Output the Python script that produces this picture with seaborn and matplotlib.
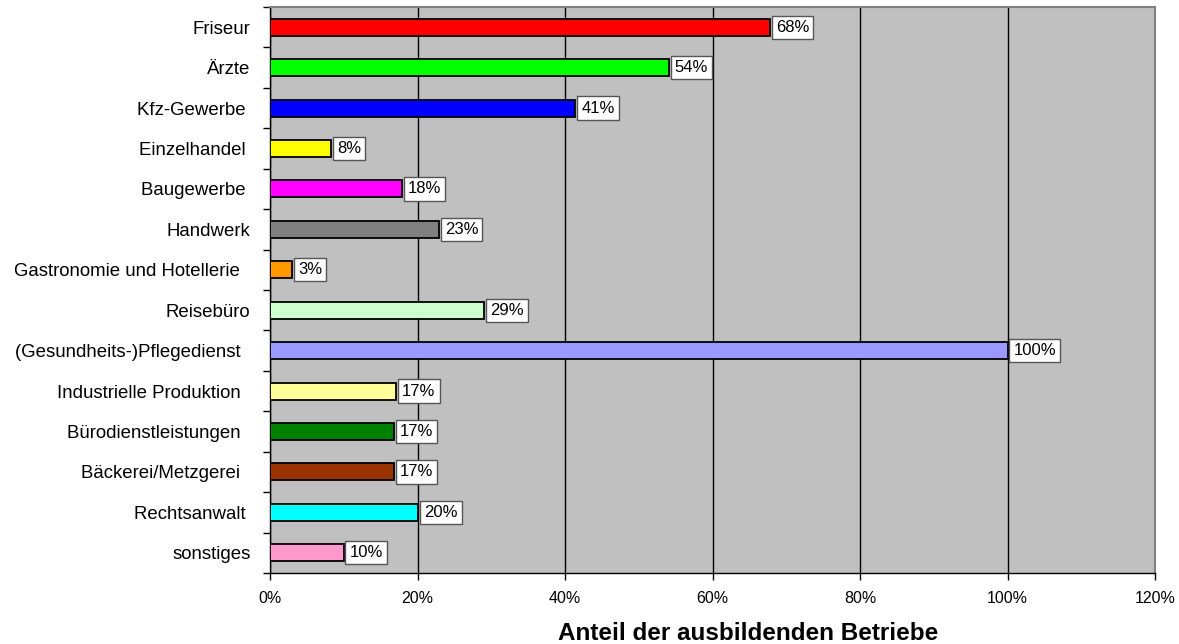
import seaborn as sns
import matplotlib.pyplot as plt
import matplotlib.ticker as mticker
import numpy as np
import pandas as pd

# Data
categories = ["Friseur", "Ärzte", "Kfz-Gewerbe ", "Einzelhandel ", "Baugewerbe ", "Handwerk",
              "Gastronomie und Hotellerie  ", "Reisebüro", "(Gesundheits-)Pflegedienst  ",
              "Industrielle Produktion  ", "Bürodienstleistungen  ", "Bäckerei/Metzgerei  ",
              "Rechtsanwalt ", "sonstiges"]
values = [0.678, 0.541, 0.414, 0.083, 0.179, 0.229, 0.030, 0.290, 1.0,
          0.171, 0.168, 0.168, 0.201, 0.100]
labels = ["68%", "54%", "41%", "8%", "18%", "23%", "3%", "29%", "100%",
          "17%", "17%", "17%", "20%", "10%"]
colors = ["#FF0000", "#00FF00", "#0000FF", "#FFFF00", "#FF00FF", "#808080", "#FF9900",
          "#CCFFCC", "#9999FF", "#FFFF99", "#008000", "#993300", "#00FFFF", "#FF99CC"]

df = pd.DataFrame({"Branche": categories, "Anteil": values})

sns.set_style("white")
plt.rcParams['font.family'] = ['Liberation Sans', 'DejaVu Sans']
plt.rcParams['text.color'] = 'black'
plt.rcParams['axes.labelcolor'] = 'black'
plt.rcParams['xtick.color'] = 'black'
plt.rcParams['ytick.color'] = 'black'

fig = plt.figure(figsize=(11.79, 6.44), dpi=100)
ax = fig.add_axes([270 / 1179, 1 - 573 / 644, 885 / 1179, 566 / 644])
ax.set_facecolor("#C0C0C0")

sns.barplot(data=df, y="Branche", x="Anteil", hue="Branche", palette=colors, saturation=1,
            legend=False, width=0.42, edgecolor="black", linewidth=1.3, ax=ax, zorder=3)

ax.set_xlim(0, 1.2)
ax.set_ylim(len(categories) - 0.5, -0.5)
ax.xaxis.set_major_locator(mticker.MultipleLocator(0.2))
ax.xaxis.set_major_formatter(mticker.FuncFormatter(lambda v, p: f"{v * 100:.0f}%"))
ax.grid(axis="x", color="black", linewidth=1, zorder=1)
ax.set_axisbelow(True)

# category ticks sit between the bars
ax.set_yticks(np.arange(len(categories)))
ax.set_yticklabels(categories, fontsize=13.4)
ax.yaxis.set_minor_locator(mticker.FixedLocator(np.arange(-0.5, len(categories), 1)))
ax.tick_params(axis="y", which="major", length=0, pad=14)
ax.tick_params(axis="y", which="minor", length=5, width=1, color="black", left=True)
ax.tick_params(axis="x", length=5, width=1, color="black", bottom=True, labelsize=11.5, pad=8)

for s in ["top", "right"]:
    ax.spines[s].set_color("#808080")
    ax.spines[s].set_linewidth(1.5)
for s in ["left", "bottom"]:
    ax.spines[s].set_color("black")
    ax.spines[s].set_linewidth(1)

for i, (v, lab) in enumerate(zip(values, labels)):
    ax.text(v + 0.008, i, lab, va="center", ha="left", fontsize=12, zorder=5,
            bbox=dict(boxstyle="square,pad=0.25", facecolor="white", edgecolor="#555555", linewidth=1))

ax.set_ylabel("")
ax.set_xlabel("Anteil der ausbildenden Betriebe", fontsize=17.5, fontweight="bold")
ax.xaxis.set_label_coords(0.54, -0.086)

fig.savefig("out.png", dpi=100)
plt.close(fig)
